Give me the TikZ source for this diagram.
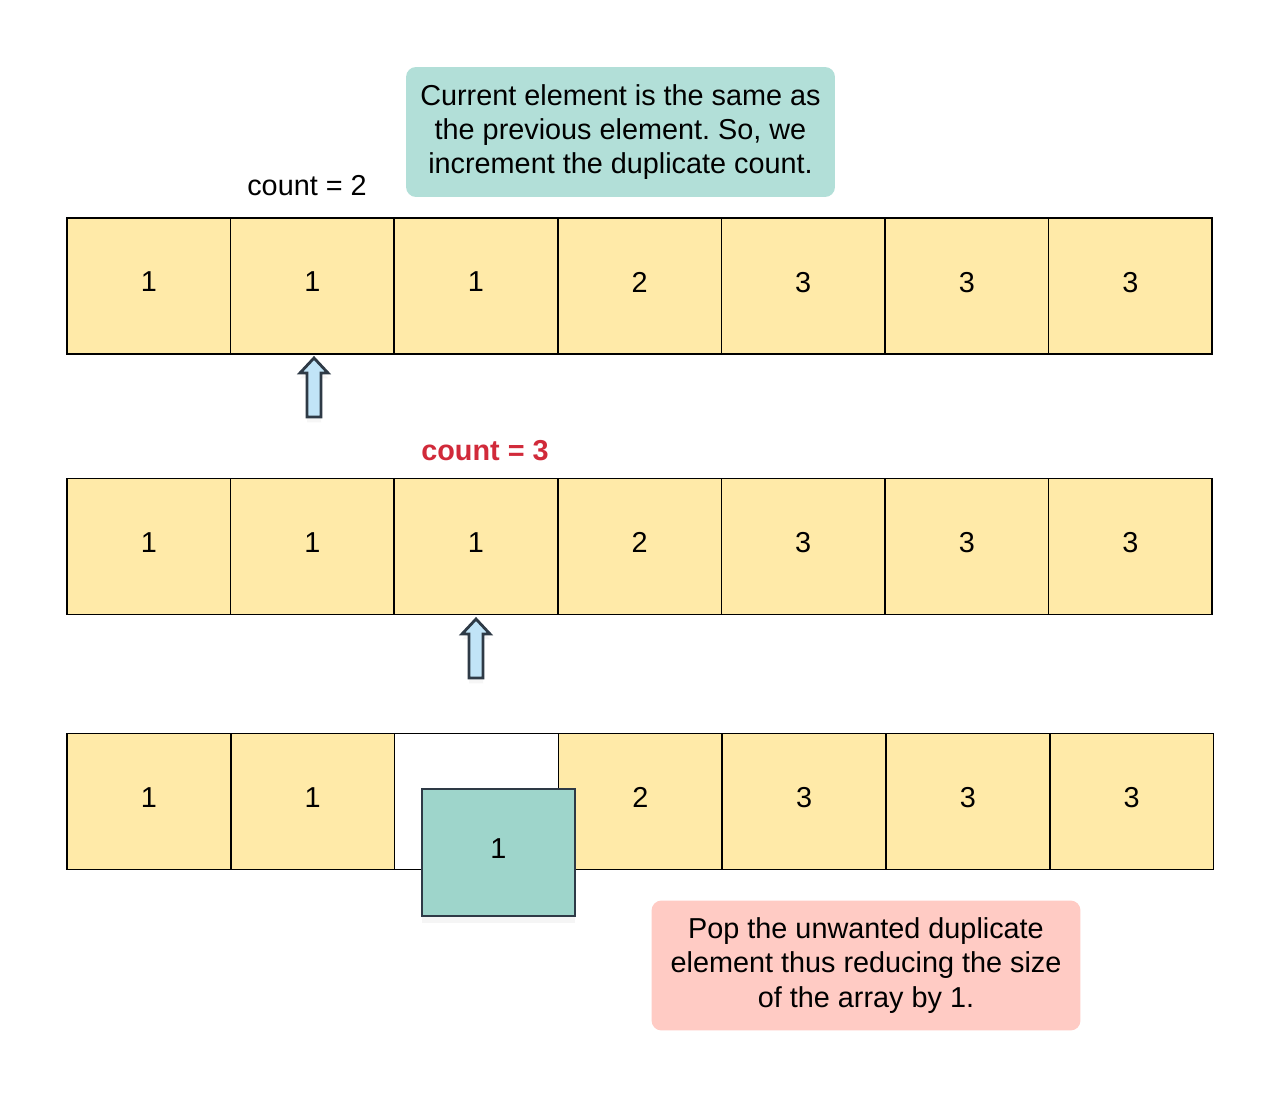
\documentclass[tikz,border=0pt]{standalone}
\usepackage{fontspec}
\setmainfont{Liberation Sans}
\usepackage{tikz}
\usetikzlibrary{positioning,shadows}
\frenchspacing

\definecolor{cellyellow}{HTML}{FFEAA8}
\definecolor{noteteal}{HTML}{B2DFD8}
\definecolor{popteal}{HTML}{9ED5CB}
\definecolor{notepink}{HTML}{FFCBC4}
\definecolor{countred}{HTML}{D12A3A}
\definecolor{ptrblue}{HTML}{C1E4F7}
\definecolor{ptrline}{HTML}{2E3A46}

\tikzset{
  cell/.style={draw=black, line width=0.8pt, fill=cellyellow, minimum width=3.27cm,
    minimum height=2.72cm, inner sep=0pt, text depth=0.16cm},
  note/.style={rounded corners=0.2cm, align=center, inner sep=0pt,
    minimum width=8.58cm, minimum height=2.6cm},
  ptr/.style={fill=ptrblue, draw=ptrline, line width=1.6pt, line join=miter,
    drop shadow={shadow xshift=0pt, shadow yshift=-3pt, opacity=0.07}}
}

\begin{document}
\begin{tikzpicture}[x=0.02cm, y=-0.02cm, font=\fontsize{16.4}{19.4}\selectfont]
    \useasboundingbox[fill=white] (0,0) rectangle (1280,1097);
    % three rows of the array
    \foreach \v [count=\i] in {1,1,1,2,3,3,3} {
      \node[cell] (a\i) at ({67+163.6*(\i-0.5)},286) {\v};
      \node[cell] (b\i) at ({67+163.6*(\i-0.5)},546.5) {\v};
    }
    \foreach \v [count=\i] in {1,1,,2,3,3,3} {
      \node[cell] (c\i) at ({67+163.8*(\i-0.5)},801.5) {\v};
    }
    \node[cell, fill=white] at (c3) {};
    % popped element
    \node[cell, fill=popteal, draw=ptrline, minimum width=3.06cm, minimum height=2.54cm,
      drop shadow={shadow xshift=0pt, shadow yshift=-4pt, opacity=0.08}]
      (popped) at (498.5,852.5) {1};
    % pointers
    \foreach \px/\py/\nm in {314/358/ptrA, 476/619/ptrB} {
      \draw[ptr] (\px,\py) coordinate (\nm)
        -- ++(14,15) -- ++(-7,0) -- ++(0,44) -- ++(-14,0) -- ++(0,-44)
        -- ++(-7,0) -- cycle;
    }
    % labels
    \node (cnt2) at (307,186) {count = 2};
    \node[text=countred, font=\fontsize{16.4}{19.4}\selectfont\bfseries] (cnt3) at (485,451) {count = 3};
    \node[note, fill=noteteal] (same) at (620.5,132)
      {Current element is the same as\\the previous element. So, we\\increment the duplicate count.};
    \node[note, fill=notepink] (pop) at (866,965.5)
      {Pop the unwanted duplicate\\element thus reducing the size\\of the array by 1.};
  \end{tikzpicture}
\end{document}
